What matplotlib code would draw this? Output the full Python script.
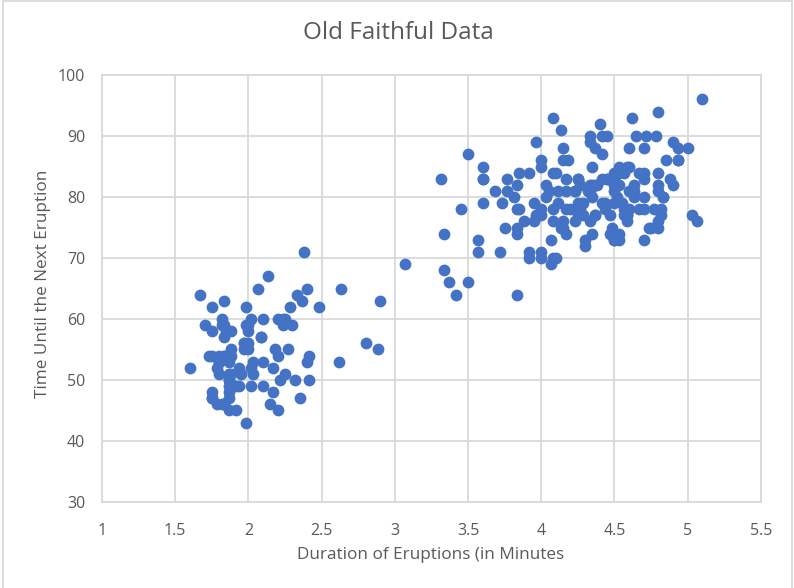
import matplotlib
matplotlib.use('Agg')
import matplotlib.pyplot as plt
import numpy as np

# Old Faithful: eruption length (min) and waiting time to next eruption (min)
eruptions = [
    3.600, 1.800, 3.333, 2.283, 4.533, 2.883, 4.700, 3.600, 1.950, 4.350,
    1.833, 3.917, 4.200, 1.750, 4.700, 2.167, 1.750, 4.800, 1.600, 4.250,
    1.800, 1.750, 3.450, 3.067, 4.533, 3.600, 1.967, 4.083, 3.850, 4.433,
    4.300, 4.467, 3.367, 4.033, 3.833, 2.017, 1.867, 4.833, 1.833, 4.783,
    4.350, 1.883, 4.567, 1.750, 4.533, 3.317, 3.833, 2.100, 4.633, 2.000,
    4.800, 4.716, 1.833, 4.833, 1.733, 4.883, 3.717, 1.667, 4.567, 4.317,
    2.233, 4.500, 1.750, 4.800, 1.817, 4.400, 4.167, 4.700, 2.067, 4.700,
    4.033, 1.967, 4.500, 4.000, 1.983, 5.067, 2.017, 4.567, 3.883, 3.600,
    4.133, 4.333, 4.100, 2.633, 4.067, 4.933, 3.950, 4.517, 2.167, 4.000,
    2.200, 4.333, 1.867, 4.817, 1.833, 4.300, 4.667, 3.750, 1.867, 4.900,
    2.483, 4.367, 2.100, 4.500, 4.050, 1.867, 4.700, 1.783, 4.850, 3.683,
    4.733, 2.300, 4.900, 4.417, 1.700, 4.633, 2.317, 4.600, 1.817, 4.417,
    2.617, 4.067, 4.250, 1.967, 4.600, 3.767, 1.917, 4.500, 2.267, 4.650,
    1.867, 4.167, 2.800, 4.333, 1.833, 4.383, 1.883, 4.933, 2.033, 3.733,
    4.233, 2.233, 4.533, 4.817, 4.333, 1.983, 4.633, 2.017, 5.100, 1.800,
    5.033, 4.000, 2.400, 4.600, 3.567, 4.000, 4.500, 4.083, 1.800, 3.967,
    2.200, 4.150, 2.000, 3.833, 3.500, 4.583, 2.367, 5.000, 1.933, 4.617,
    1.917, 2.083, 4.583, 3.333, 4.167, 4.333, 4.500, 2.417, 4.000, 4.167,
    1.883, 4.583, 4.250, 3.767, 2.033, 4.433, 4.083, 1.833, 4.417, 2.183,
    4.800, 1.833, 4.800, 4.100, 3.966, 4.233, 3.500, 4.366, 2.250, 4.667,
    2.100, 4.350, 4.133, 1.867, 4.600, 1.783, 4.367, 3.850, 1.933, 4.500,
    2.383, 4.700, 1.867, 3.833, 3.417, 4.233, 2.400, 4.800, 2.000, 4.150,
    1.867, 4.267, 1.750, 4.483, 4.000, 4.117, 4.083, 4.267, 3.917, 4.550,
    4.083, 2.417, 4.183, 2.217, 4.450, 1.883, 1.850, 4.283, 3.950, 2.333,
    4.150, 2.350, 4.933, 2.900, 4.583, 3.833, 2.083, 4.367, 2.133, 4.350,
    2.200, 4.450, 3.567, 4.500, 4.150, 3.817, 3.917, 4.450, 2.000, 4.283,
    4.767, 4.533, 1.850, 4.250, 1.983, 2.250, 4.750, 4.117, 2.150, 4.417,
    1.817, 4.467,
]
waiting = [
    79, 54, 74, 62, 85, 55, 88, 85, 51, 85,
    54, 84, 78, 47, 83, 52, 62, 84, 52, 79,
    51, 47, 78, 69, 74, 83, 55, 76, 78, 79,
    73, 77, 66, 80, 74, 52, 48, 80, 59, 90,
    80, 58, 84, 58, 73, 83, 64, 53, 82, 59,
    75, 90, 54, 80, 54, 83, 71, 64, 77, 81,
    59, 84, 48, 82, 60, 92, 78, 78, 65, 73,
    82, 56, 79, 71, 62, 76, 60, 78, 76, 83,
    75, 82, 70, 65, 73, 88, 76, 80, 48, 86,
    60, 90, 50, 78, 63, 72, 84, 75, 51, 82,
    62, 88, 49, 83, 81, 47, 84, 52, 86, 81,
    75, 59, 89, 79, 59, 81, 50, 85, 59, 87,
    53, 69, 77, 56, 88, 81, 45, 82, 55, 90,
    45, 83, 56, 89, 46, 82, 51, 86, 53, 79,
    81, 60, 82, 77, 76, 59, 80, 49, 96, 53,
    77, 77, 65, 81, 71, 70, 81, 93, 53, 89,
    45, 86, 58, 78, 66, 76, 63, 88, 52, 93,
    49, 57, 77, 68, 81, 81, 73, 50, 85, 74,
    55, 77, 83, 83, 51, 78, 84, 46, 83, 55,
    81, 57, 76, 84, 77, 81, 87, 77, 51, 78,
    60, 82, 91, 53, 78, 46, 77, 84, 49, 83,
    71, 80, 49, 75, 64, 76, 53, 94, 55, 76,
    50, 82, 54, 75, 78, 79, 78, 78, 70, 79,
    70, 54, 86, 50, 90, 54, 54, 77, 79, 64,
    75, 47, 86, 63, 85, 82, 57, 82, 67, 74,
    54, 83, 73, 73, 88, 80, 71, 83, 56, 79,
    78, 84, 58, 83, 43, 60, 75, 81, 46, 90,
    46, 74,
]
xticks = [1, 1.5, 2, 2.5, 3, 3.5, 4, 4.5, 5, 5.5]
yticks = [30, 40, 50, 60, 70, 80, 90, 100]

txt = '#595959'
grid = '#d9d9d9'
plt.rcParams['font.family'] = ['Open Sans', 'DejaVu Sans']

fig = plt.figure(figsize=(7.94, 5.88), dpi=100)
ax = fig.add_axes([0.1285, 0.1463, 0.8297, 0.7261])
ax.scatter(eruptions, waiting, s=72, color='#4472c4', zorder=3, linewidths=0)

ax.set_xlim(1, 5.5)
ax.set_ylim(30, 100)
ax.set_xticks(xticks)
ax.set_xticklabels(['%g' % t for t in xticks])
ax.set_yticks(yticks)
ax.grid(True, color=grid, linewidth=1.3)
ax.set_axisbelow(True)
for s in ax.spines.values():
    s.set_color(grid)
    s.set_linewidth(1.3)
ax.tick_params(length=0, colors=txt, labelsize=11.5)
ax.tick_params(axis='x', pad=15)
ax.tick_params(axis='y', pad=12)

fig.text(0.542, 1 - 555 / 588, 'Duration of Eruptions (in Minutes', ha='center', va='center',
         color=txt, fontsize=12.3)
fig.text(43 / 794, 1 - 284 / 588, 'Time Until the Next Eruption', ha='center', va='center',
         rotation=90, color=txt, fontsize=12.3)
fig.text(0.502, 1 - 33 / 588, 'Old Faithful Data', ha='center', va='center', color=txt, fontsize=17.5)

# chart frame
fig.add_artist(plt.Rectangle((0.004, -0.01), 0.993, 1.008, transform=fig.transFigure,
                             fill=False, edgecolor=grid, linewidth=1.3))

plt.savefig('out.png', dpi=100)
